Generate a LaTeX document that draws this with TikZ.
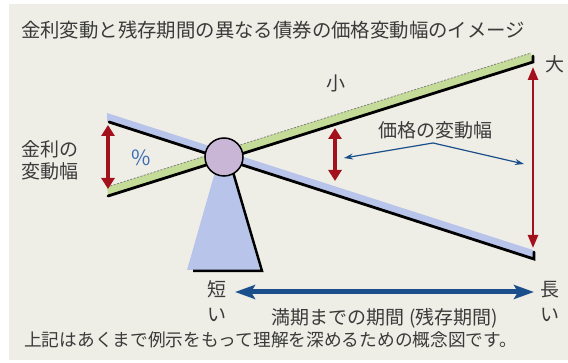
\documentclass[tikz,border=0pt]{standalone}
\usepackage{fontspec}
\setmainfont{Noto Sans CJK JP}
\usetikzlibrary{arrows.meta}
\definecolor{bg}{HTML}{EFEEE6}
\definecolor{txt}{HTML}{3A3A3A}
\definecolor{beamgreen}{HTML}{C4DC98}
\definecolor{beamblue}{HTML}{B9C4EA}
\definecolor{pivot}{HTML}{C9B6D6}
\definecolor{darkred}{HTML}{A3121C}
\definecolor{navy}{HTML}{1B4F8C}
\definecolor{pct}{HTML}{3F6DB5}
\tikzset{
  lbl/.style={text=txt, inner sep=0pt, font=\fontsize{19}{22}\selectfont},
  redarrow/.style={draw=darkred, line width=4pt, {Triangle[length=11pt,width=13pt]}-{Triangle[length=11pt,width=13pt]}},
  thinred/.style={draw=darkred, line width=2.4pt, {Triangle[length=13pt,width=10pt]}-{Triangle[length=13pt,width=10pt]}},
  bluearrow/.style={draw=navy, line width=5pt, {Stealth[length=20pt,width=14pt,inset=4pt]}-{Stealth[length=20pt,width=14pt,inset=4pt]}},
  thinblue/.style={draw=navy, line width=1.2pt, -{Stealth[length=9pt,width=6pt]}},
}
\begin{document}
\begin{tikzpicture}[x=1pt,y=-1pt]
\useasboundingbox (0,0) rectangle (568,363);
\fill[white] (0,0) rectangle (568,363);
\fill[bg] (9,4) rectangle (568,360);

% title
\node[lbl, anchor=west, font=\fontsize{19.4}{23}\selectfont] (title) at (21,30) {金利変動と残存期間の異なる債券の価格変動幅のイメージ};

% fulcrum
\fill[beamblue] (215,172) -- (233,172) -- (260,270) -- (187,270) -- cycle;
\draw[black, line width=2.5pt] (233,172) -- (262,271) -- (193,271);

% blue beam
\fill[beamblue] (107,113) -- (533,250) -- (533,258) -- (107,121) -- cycle;
\draw[black, line width=2.8pt, line cap=round] (109,122) -- (534,259) -- (534,252);

% green beam
\fill[beamgreen] (107,187) -- (531,53) -- (532,61) -- (108,195) -- cycle;
\draw[gray, line width=0.8pt, dash pattern=on 2pt off 1.5pt] (107,187) -- (531,53);
\draw[black, line width=2.8pt, line cap=round] (108,196) -- (533,62) -- (533,56);

% pivot
\node[circle, fill=pivot, draw=black, line width=1.5pt, minimum size=38pt, inner sep=0pt] (piv) at (224,157) {};

% left red arrow
\coordinate (lt) at (108,125);
\coordinate (lb) at (108,189);
\draw[redarrow] (lt) -- (lb);
\node[font=\fontsize{21}{24}\selectfont, text=pct] (pc) at (141,158) {\%};
\node[lbl, align=left, anchor=west] (kinri) at (21,160) {金利の\\変動幅};

% middle red arrow
\coordinate (mt) at (335,128);
\coordinate (mb) at (335,181);
\draw[redarrow] (mt) -- (mb);

% right red arrow
\coordinate (rt) at (533,67);
\coordinate (rb) at (533,248);
\draw[thinred] (rt) -- (rb);

\node[lbl] (small) at (336,83) {小};
\node[lbl] (big) at (555,64) {大};
\node[lbl] (kakaku) at (435,130) {価格の変動幅};

% thin blue pointers
\coordinate (apex) at (433,143);
\coordinate (pl) at (344,158);
\coordinate (pr) at (524,164);
\draw[thinblue] (apex) -- (pl);
\draw[thinblue] (apex) -- (pr);

% bottom axis
\node[lbl, align=center, font=\fontsize{19}{25}\selectfont] (short) at (217,301) {短\\い};
\node[lbl, align=center, font=\fontsize{19}{25}\selectfont] (long) at (550,301) {長\\い};
\coordinate (al) at (235,292);
\coordinate (ar) at (534,292);
\draw[bluearrow] (al) -- (ar);
\node[lbl] (period) at (385,318) {満期までの期間 (残存期間)};
\node[lbl, anchor=west, font=\fontsize{17.7}{22}\selectfont] (note) at (24,340) {上記はあくまで例示をもって理解を深めるための概念図です。};
\end{tikzpicture}
\end{document}
